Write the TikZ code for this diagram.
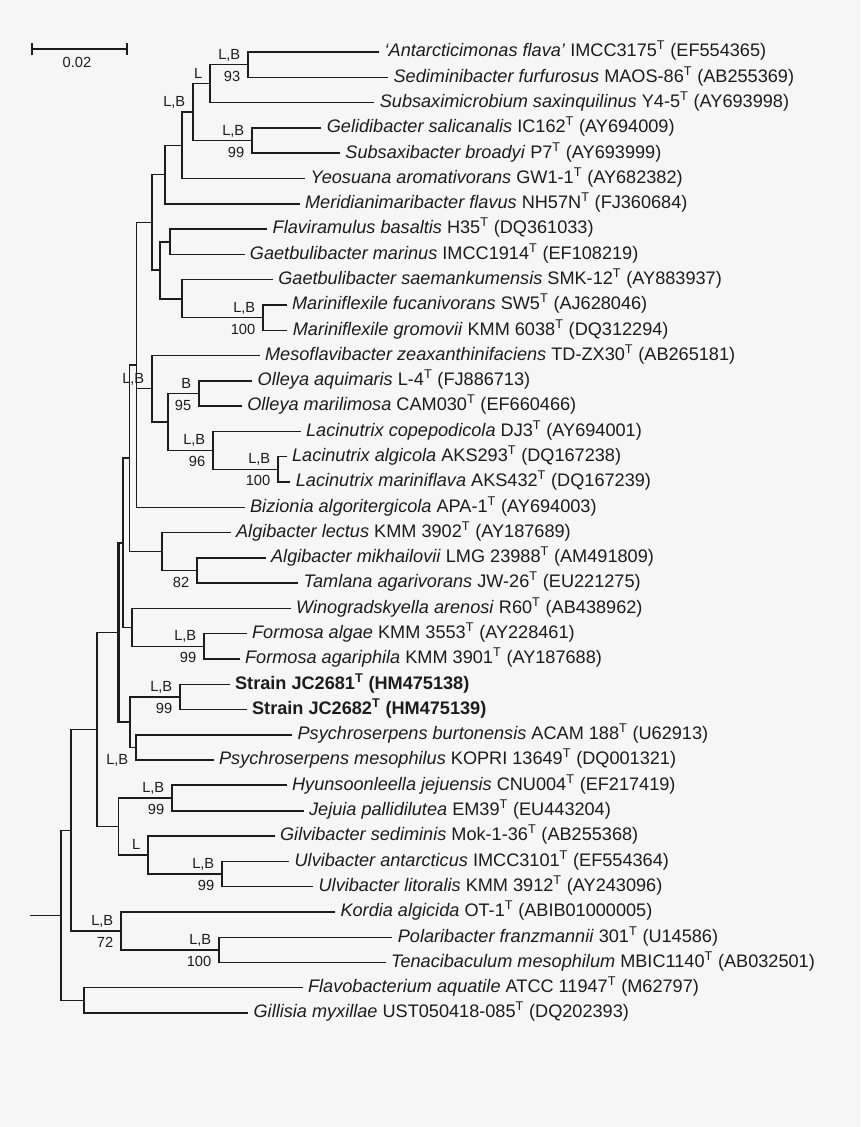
\documentclass[tikz,border=0pt]{standalone}
\usepackage{fontspec}
\setmainfont{Liberation Sans}
\definecolor{bg}{RGB}{246,246,246}
\definecolor{ink}{RGB}{28,28,28}
\begin{document}
\begin{tikzpicture}[x=0.75pt,y=-0.75pt,
  taxon/.style={anchor=west, inner xsep=4.4pt, inner ysep=0pt, text height=0.72em, text depth=0pt, font=\fontsize{13.6}{16}\selectfont, text=ink},
  branch/.style={draw=ink, line width=1.05pt, line cap=rect},
  thk/.style={line width=1.6pt},
  labA/.style={anchor=east, inner sep=0pt, text height=0.72em, text depth=0pt, font=\fontsize{11}{13}\selectfont, text=ink, xshift=-5.6pt, yshift=7.7pt},
  labB/.style={anchor=east, inner sep=0pt, text height=0.72em, text depth=0pt, font=\fontsize{11}{13}\selectfont, text=ink, xshift=-5.6pt, yshift=-8.9pt}]
\fill[bg] (0,0) rectangle (860,1127);
\useasboundingbox (0,0) rectangle (860,1127);

% scale bar
\coordinate (sbL) at (32,49);
\coordinate (sbR) at (127,49);
\draw[branch] (sbL) -- (sbR);
\draw[branch] (sbL) ++(0,-5) -- ++(0,10);
\draw[branch] (sbR) ++(0,-5) -- ++(0,10);
\node[inner sep=0pt, font=\fontsize{11}{13}\selectfont, text=ink] (sbT) at (77,62.5) {0.02};

% tips
\node[taxon] (t1) at (378.5,52.0) {\textit{‘Antarcticimonas flava’} IMCC3175\textsuperscript{T} (EF554365)};
\node[taxon] (t2) at (387.5,77.3) {\textit{Sediminibacter furfurosus} MAOS-86\textsuperscript{T} (AB255369)};
\node[taxon] (t3) at (373.7,102.6) {\textit{Subsaximicrobium saxinquilinus} Y4-5\textsuperscript{T} (AY693998)};
\node[taxon] (t4) at (320.7,127.9) {\textit{Gelidibacter salicanalis} IC162\textsuperscript{T} (AY694009)};
\node[taxon] (t5) at (339.3,153.2) {\textit{Subsaxibacter broadyi} P7\textsuperscript{T} (AY693999)};
\node[taxon] (t6) at (304.6,178.5) {\textit{Yeosuana aromativorans} GW1-1\textsuperscript{T} (AY682382)};
\node[taxon] (t7) at (299.0,203.7) {\textit{Meridianimaribacter flavus} NH57N\textsuperscript{T} (FJ360684)};
\node[taxon] (t8) at (266.6,229.0) {\textit{Flaviramulus basaltis} H35\textsuperscript{T} (DQ361033)};
\node[taxon] (t9) at (243.8,254.3) {\textit{Gaetbulibacter marinus} IMCC1914\textsuperscript{T} (EF108219)};
\node[taxon] (t10) at (272.2,279.6) {\textit{Gaetbulibacter saemankumensis} SMK-12\textsuperscript{T} (AY883937)};
\node[taxon] (t11) at (286.0,304.9) {\textit{Mariniflexile fucanivorans} SW5\textsuperscript{T} (AJ628046)};
\node[taxon] (t12) at (286.7,330.2) {\textit{Mariniflexile gromovii} KMM 6038\textsuperscript{T} (DQ312294)};
\node[taxon] (t13) at (259.0,355.5) {\textit{Mesoflavibacter zeaxanthinifaciens} TD-ZX30\textsuperscript{T} (AB265181)};
\node[taxon] (t14) at (251.6,380.8) {\textit{Olleya aquimaris} L-4\textsuperscript{T} (FJ886713)};
\node[taxon] (t15) at (241.2,406.1) {\textit{Olleya marilimosa} CAM030\textsuperscript{T} (EF660466)};
\node[taxon] (t16) at (300.0,431.4) {\textit{Lacinutrix copepodicola} DJ3\textsuperscript{T} (AY694001)};
\node[taxon] (t17) at (286.0,456.6) {\textit{Lacinutrix algicola} AKS293\textsuperscript{T} (DQ167238)};
\node[taxon] (t18) at (289.7,481.9) {\textit{Lacinutrix mariniflava} AKS432\textsuperscript{T} (DQ167239)};
\node[taxon] (t19) at (244.0,507.2) {\textit{Bizionia algoritergicola} APA-1\textsuperscript{T} (AY694003)};
\node[taxon] (t20) at (230.0,532.5) {\textit{Algibacter lectus} KMM 3902\textsuperscript{T} (AY187689)};
\node[taxon] (t21) at (265.0,557.8) {\textit{Algibacter mikhailovii} LMG 23988\textsuperscript{T} (AM491809)};
\node[taxon] (t22) at (297.5,583.1) {\textit{Tamlana agarivorans} JW-26\textsuperscript{T} (EU221275)};
\node[taxon] (t23) at (290.0,608.4) {\textit{Winogradskyella arenosi} R60\textsuperscript{T} (AB438962)};
\node[taxon] (t24) at (246.0,633.7) {\textit{Formosa algae} KMM 3553\textsuperscript{T} (AY228461)};
\node[taxon] (t25) at (239.0,659.0) {\textit{Formosa agariphila} KMM 3901\textsuperscript{T} (AY187688)};
\node[taxon] (t26) at (229.0,684.3) {\textbf{Strain JC2681\textsuperscript{T} (HM475138)}};
\node[taxon] (t27) at (246.0,709.6) {\textbf{Strain JC2682\textsuperscript{T} (HM475139)}};
\node[taxon] (t28) at (291.5,734.8) {\textit{Psychroserpens burtonensis} ACAM 188\textsuperscript{T} (U62913)};
\node[taxon] (t29) at (213.0,760.1) {\textit{Psychroserpens mesophilus} KOPRI 13649\textsuperscript{T} (DQ001321)};
\node[taxon] (t30) at (286.0,785.4) {\textit{Hyunsoonleella jejuensis} CNU004\textsuperscript{T} (EF217419)};
\node[taxon] (t31) at (303.0,810.7) {\textit{Jejuia pallidilutea} EM39\textsuperscript{T} (EU443204)};
\node[taxon] (t32) at (274.0,836.0) {\textit{Gilvibacter sediminis} Mok-1-36\textsuperscript{T} (AB255368)};
\node[taxon] (t33) at (288.5,861.3) {\textit{Ulvibacter antarcticus} IMCC3101\textsuperscript{T} (EF554364)};
\node[taxon] (t34) at (312.5,886.6) {\textit{Ulvibacter litoralis} KMM 3912\textsuperscript{T} (AY243096)};
\node[taxon] (t35) at (334.4,911.9) {\textit{Kordia algicida} OT-1\textsuperscript{T} (ABIB01000005)};
\node[taxon] (t36) at (391.7,937.2) {\textit{Polaribacter franzmannii} 301\textsuperscript{T} (U14586)};
\node[taxon] (t37) at (385.0,962.4) {\textit{Tenacibaculum mesophilum} MBIC1140\textsuperscript{T} (AB032501)};
\node[taxon] (t38) at (302.0,987.7) {\textit{Flavobacterium aquatile} ATCC 11947\textsuperscript{T} (M62797)};
\node[taxon] (t39) at (247.5,1013.0) {\textit{Gillisia myxillae} UST050418-085\textsuperscript{T} (DQ202393)};

% internal nodes
\coordinate (nA) at (248,64.7);
\coordinate (nL) at (210,83.6);
\coordinate (nG) at (252,140.5);
\coordinate (nLB) at (193,112);
\coordinate (nY) at (182,145.3);
\coordinate (nM) at (165,174.5);
\coordinate (nFG) at (170,241.7);
\coordinate (nMar) at (263,317.6);
\coordinate (nGs) at (182,298.6);
\coordinate (nFl) at (160,270.1);
\coordinate (nTop) at (152,222.3);
\coordinate (nOl) at (199,393.5);
\coordinate (nLa2) at (278,469.3);
\coordinate (nLa) at (213,450.3);
\coordinate (nOL) at (168,421.9);
\coordinate (nMes) at (152,388.7);
\coordinate (nP1) at (136.5,364.8);
\coordinate (nTa) at (197,570.5);
\coordinate (nAl) at (162,551.5);
\coordinate (nP2) at (129.5,458.1);
\coordinate (nFo) at (204,646.3);
\coordinate (nWi) at (132,627.4);
\coordinate (nP3) at (123,542.7);
\coordinate (nSt) at (180,697);
\coordinate (nPs) at (136,747.5);
\coordinate (nSP) at (130,722.2);
\coordinate (nP4) at (118.5,632.5);
\coordinate (nHy) at (172,798.1);
\coordinate (nUl) at (222,874);
\coordinate (nGi) at (148,855);
\coordinate (nHG) at (118.5,826.5);
\coordinate (nP5) at (97,729.5);
\coordinate (nPo) at (219,949.8);
\coordinate (nKo) at (121,930.9);
\coordinate (nP6) at (71,830.2);
\coordinate (nFv) at (84,1000.4);
\coordinate (root) at (61,915.3);
\coordinate (r0) at (31,915.3);

% branches
\draw[branch] (nA) |- (t1.west);  \draw[branch] (nA) |- (t2.west);
\draw[branch] (nL) |- (nA);       \draw[branch] (nL) |- (t3.west);
\draw[branch] (nG) |- (t4.west);  \draw[branch] (nG) |- (t5.west);
\draw[branch] (nLB) |- (nL);      \draw[branch] (nLB) |- (nG);
\draw[branch] (nY) |- (nLB);      \draw[branch] (nY) |- (t6.west);
\draw[branch] (nM) |- (nY);       \draw[branch,thk] (nM) |- (t7.west);
\draw[branch] (nFG) |- (t8.west); \draw[branch] (nFG) |- (t9.west);
\draw[branch] (nMar) |- (t11.west); \draw[branch] (nMar) |- (t12.west);
\draw[branch] (nGs) |- (t10.west); \draw[branch] (nGs) |- (nMar);
\draw[branch,thk] (nFl) |- (nFG); \draw[branch,thk] (nFl) |- (nGs);
\draw[branch] (nTop) |- (nM);     \draw[branch] (nTop) |- (nFl);
\draw[branch] (nOl) |- (t14.west); \draw[branch] (nOl) |- (t15.west);
\draw[branch] (nLa2) |- (t17.west); \draw[branch] (nLa2) |- (t18.west);
\draw[branch] (nLa) |- (t16.west); \draw[branch] (nLa) |- (nLa2);
\draw[branch] (nOL) |- (nOl);     \draw[branch] (nOL) |- (nLa);
\draw[branch] (nMes) |- (t13.west); \draw[branch] (nMes) |- (nOL);
\draw[branch] (nP1) |- (nTop);    \draw[branch] (nP1) |- (nMes); \draw[branch] (nP1) |- (t19.west);
\draw[branch] (nTa) |- (t21.west); \draw[branch] (nTa) |- (t22.west);
\draw[branch] (nAl) |- (t20.west); \draw[branch] (nAl) |- (nTa);
\draw[branch] (nP2) |- (nP1);     \draw[branch] (nP2) |- (nAl);
\draw[branch] (nFo) |- (t24.west); \draw[branch] (nFo) |- (t25.west);
\draw[branch] (nWi) |- (t23.west); \draw[branch] (nWi) |- (nFo);
\draw[branch] (nP3) |- (nP2);     \draw[branch] (nP3) |- (nWi);
\draw[branch] (nSt) |- (t26.west); \draw[branch] (nSt) |- (t27.west);
\draw[branch] (nPs) |- (t28.west); \draw[branch] (nPs) |- (t29.west);
\draw[branch,thk] (nSP) |- (nSt); \draw[branch] (nSP) |- (nPs);
\draw[branch,thk] (nP4) |- (nP3); \draw[branch,thk] (nP4) |- (nSP);
\draw[branch,thk] (nHy) |- (t30.west); \draw[branch,thk] (nHy) |- (t31.west);
\draw[branch] (nUl) |- (t33.west); \draw[branch] (nUl) |- (t34.west);
\draw[branch] (nGi) |- (t32.west); \draw[branch] (nGi) |- (nUl);
\draw[branch] (nHG) |- (nHy);     \draw[branch] (nHG) |- (nGi);
\draw[branch] (nP5) |- (nP4);     \draw[branch] (nP5) |- (nHG);
\draw[branch] (nPo) |- (t36.west); \draw[branch] (nPo) |- (t37.west);
\draw[branch] (nKo) |- (t35.west); \draw[branch] (nKo) |- (nPo);
\draw[branch] (nP6) |- (nP5);     \draw[branch] (nP6) |- (nKo);
\draw[branch] (nFv) |- (t38.west); \draw[branch] (nFv) |- (t39.west);
\draw[branch] (root) |- (nP6);    \draw[branch] (root) |- (nFv);
\draw[branch] (r0) -- (root);

% support labels
\node[labA] (lA1) at (nA) {L,B};   \node[labB] (lA2) at (nA) {93};
\node[labA] (lL1) at (nL) {L};
\node[labA] (lLB1) at (nLB) {L,B};
\node[labA] (lG1) at (nG) {L,B};   \node[labB] (lG2) at (nG) {99};
\node[labA] (lMar1) at (nMar) {L,B}; \node[labB] (lMar2) at (nMar) {100};
\node[labA] (lMes1) at (nMes) {L,B};
\node[labA] (lOl1) at (nOl) {B};   \node[labB] (lOl2) at (nOl) {95};
\node[labA] (lLa1) at (nLa) {L,B}; \node[labB] (lLa2) at (nLa) {96};
\node[labA] (lLb1) at (nLa2) {L,B}; \node[labB] (lLb2) at (nLa2) {100};
\node[labB] (lTa2) at (nTa) {82};
\node[labA] (lFo1) at (nFo) {L,B}; \node[labB] (lFo2) at (nFo) {99};
\node[labA] (lSt1) at (nSt) {L,B}; \node[labB] (lSt2) at (nSt) {99};
\node[labB] (lPs2) at (nPs) {L,B};
\node[labA] (lHy1) at (nHy) {L,B}; \node[labB] (lHy2) at (nHy) {99};
\node[labA] (lGi1) at (nGi) {L};
\node[labA] (lUl1) at (nUl) {L,B}; \node[labB] (lUl2) at (nUl) {99};
\node[labA] (lKo1) at (nKo) {L,B}; \node[labB] (lKo2) at (nKo) {72};
\node[labA] (lPo1) at (nPo) {L,B}; \node[labB] (lPo2) at (nPo) {100};
\end{tikzpicture}
\end{document}
